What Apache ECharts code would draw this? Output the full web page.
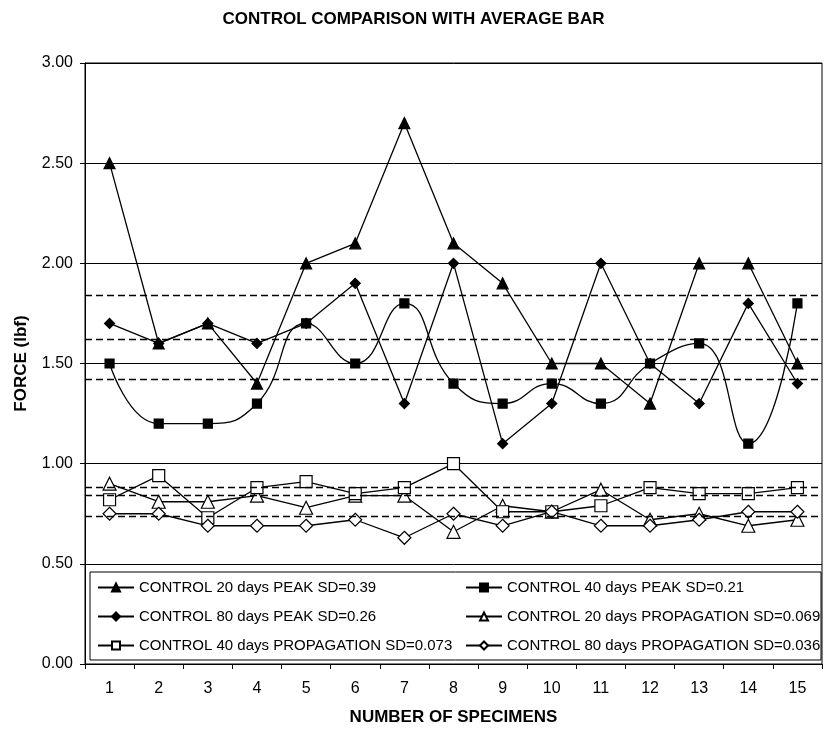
<!DOCTYPE html>
<html>
<head>
<meta charset="utf-8">
<script src="https://cdn.jsdelivr.net/npm/echarts@6/dist/echarts.min.js"></script>
<style>
  html, body { margin: 0; padding: 0; background: #fff; }
  #chart { width: 827px; height: 731px; }
</style>
</head>
<body>
<div id="chart"></div>
<script>
// Specimen numbers along the x axis
const specimens = ['1','2','3','4','5','6','7','8','9','10','11','12','13','14','15'];

// Peak force (lbf) per specimen
const peak20 = [2.50, 1.60, 1.70, 1.40, 2.00, 2.10, 2.70, 2.10, 1.90, 1.50, 1.50, 1.30, 2.00, 2.00, 1.50];
const peak40 = [1.50, 1.20, 1.20, 1.30, 1.70, 1.50, 1.80, 1.40, 1.30, 1.40, 1.30, 1.50, 1.60, 1.10, 1.80];
const peak80 = [1.70, 1.60, 1.70, 1.60, 1.70, 1.90, 1.30, 2.00, 1.10, 1.30, 2.00, 1.50, 1.30, 1.80, 1.40];

// Propagation force (lbf) per specimen
const prop20 = [0.90, 0.81, 0.81, 0.84, 0.78, 0.84, 0.84, 0.66, 0.79, 0.76, 0.87, 0.72, 0.75, 0.69, 0.72];
const prop40 = [0.82, 0.94, 0.73, 0.88, 0.91, 0.85, 0.88, 1.00, 0.76, 0.76, 0.79, 0.88, 0.85, 0.85, 0.88];
const prop80 = [0.75, 0.75, 0.69, 0.69, 0.69, 0.72, 0.63, 0.75, 0.69, 0.76, 0.69, 0.69, 0.72, 0.76, 0.76];

// Average bars (dashed)
const avgPeak20 = 1.84, avgPeak80 = 1.62, avgPeak40 = 1.42;
const avgProp40 = 0.88, avgProp20 = 0.84, avgProp80 = 0.74;

// Y axis tick values
const yTicks = { min: 0, max: 3, step: 0.5 };

const names = [
  'CONTROL 20 days PEAK SD=0.39',
  'CONTROL 40 days PEAK SD=0.21',
  'CONTROL 80 days PEAK SD=0.26',
  'CONTROL 20 days PROPAGATION SD=0.069',
  'CONTROL 40 days PROPAGATION SD=0.073',
  'CONTROL 80 days PROPAGATION SD=0.036'
];

const FONT = '"Liberation Sans", Arial, sans-serif';
const diamond = 'path://M0,-1L1,0L0,1L-1,0Z';

function avgLine(v) {
  return {
    silent: true,
    symbol: 'none',
    label: { show: false },
    lineStyle: { color: '#000', type: [7, 4], width: 1.3 },
    data: [{ yAxis: v }]
  };
}

function mkSeries(name, data, symbol, size, filled, smooth, avg) {
  return {
    name: name,
    type: 'line',
    data: data,
    smooth: smooth ? 0.5 : false,
    symbol: symbol,
    symbolSize: size,
    showAllSymbol: true,
    lineStyle: { color: '#000', width: 1.3 },
    itemStyle: { color: filled ? '#000' : '#fff', borderColor: '#000', borderWidth: 1.2 },
    emphasis: { disabled: true },
    markLine: avgLine(avg),
    animation: false
  };
}

const chart = echarts.init(document.getElementById('chart'), null, { renderer: 'canvas' });

const legendCommon = {
  orient: 'vertical',
  itemWidth: 36,
  itemHeight: 10,
  itemGap: 14,
  padding: 0,
  z: 10,
  selectedMode: false,
  textStyle: { fontFamily: FONT, fontSize: 15, color: '#000', lineHeight: 15 }
};

chart.setOption({
  backgroundColor: '#fff',
  animation: false,
  title: {
    text: 'CONTROL COMPARISON WITH AVERAGE BAR',
    left: 'center',
    top: 6,
    textStyle: { fontFamily: FONT, fontSize: 17, fontWeight: 'bold', color: '#000' }
  },
  grid: { left: 85, right: 5, top: 63, bottom: 64, show: true, borderColor: '#000', borderWidth: 1 },
  legend: [
    Object.assign({ left: 97, top: 580, data: [names[0], names[2], names[4]] }, legendCommon),
    Object.assign({ left: 465, top: 580, data: [names[1], names[3], names[5]] }, legendCommon)
  ],
  graphic: [{
    type: 'rect',
    shape: { x: 90, y: 572, width: 731, height: 88 },
    style: { fill: '#fff', stroke: '#000', lineWidth: 1 },
    z: 3
  }],
  xAxis: {
    type: 'category',
    data: specimens,
    boundaryGap: true,
    name: 'NUMBER OF SPECIMENS',
    nameLocation: 'middle',
    nameGap: 45,
    nameTextStyle: { fontFamily: FONT, fontSize: 17, fontWeight: 'bold', color: '#000' },
    axisLine: { lineStyle: { color: '#000', width: 1 } },
    axisTick: { show: true, length: 5, lineStyle: { color: '#000' } },
    axisLabel: { fontFamily: FONT, fontSize: 16, color: '#000', margin: 17 },
    splitLine: { show: false }
  },
  yAxis: {
    type: 'value',
    min: yTicks.min,
    max: yTicks.max,
    interval: yTicks.step,
    name: 'FORCE (lbf)',
    nameLocation: 'middle',
    nameGap: 55,
    nameTextStyle: { fontFamily: FONT, fontSize: 17, fontWeight: 'bold', color: '#000' },
    axisLine: { show: true, lineStyle: { color: '#000', width: 1 } },
    axisTick: { show: true, length: 5, lineStyle: { color: '#000' } },
    axisLabel: { fontFamily: FONT, fontSize: 16, color: '#000', margin: 12, formatter: v => v.toFixed(2) },
    splitLine: { show: true, lineStyle: { color: '#000', width: 1 } }
  },
  series: [
    mkSeries(names[0], peak20, 'triangle', 11, true, false, avgPeak20),
    mkSeries(names[1], peak40, 'rect', 9, true, true, avgPeak40),
    mkSeries(names[2], peak80, diamond, 10, true, false, avgPeak80),
    mkSeries(names[3], prop20, 'triangle', 13, false, false, avgProp20),
    mkSeries(names[4], prop40, 'rect', 12, false, false, avgProp40),
    mkSeries(names[5], prop80, diamond, 13, false, false, avgProp80)
  ]
});
</script>
</body>
</html>
